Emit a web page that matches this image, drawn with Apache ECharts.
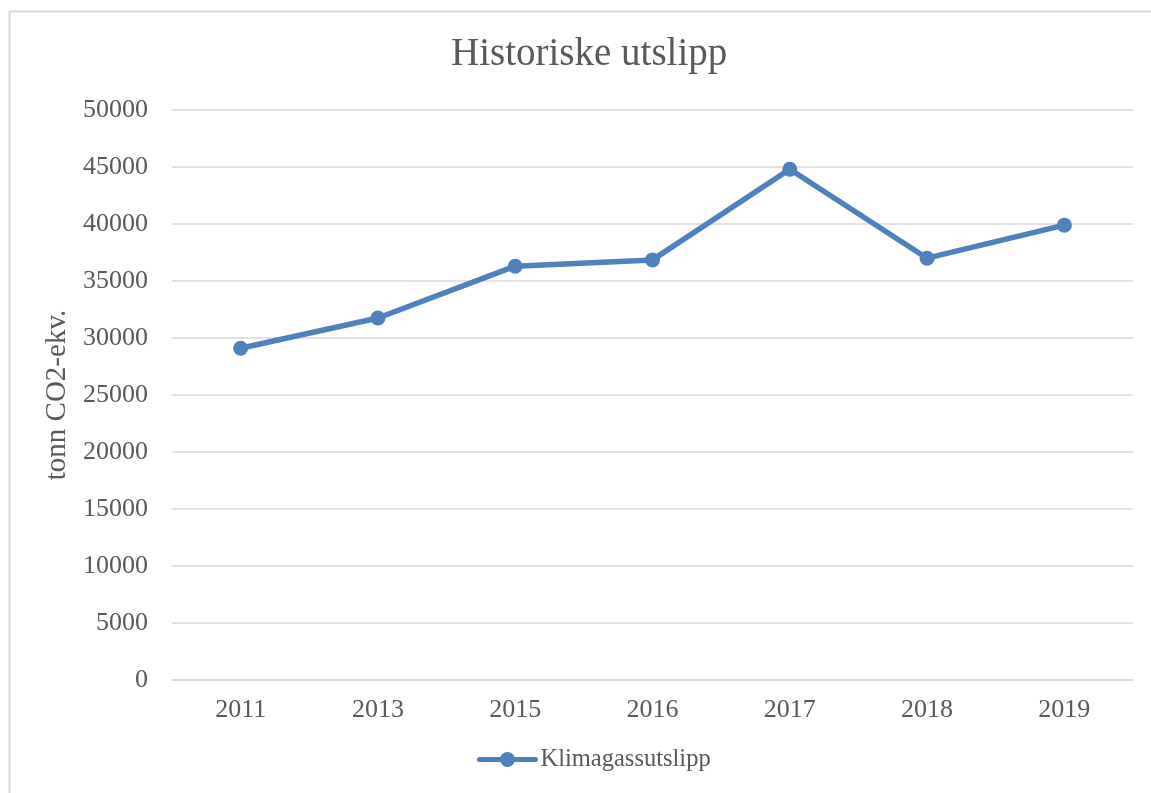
<!DOCTYPE html>
<html>
<head>
<meta charset="utf-8">
<script src="https://cdn.jsdelivr.net/npm/echarts@6/dist/echarts.min.js"></script>
<style>
  html, body { margin: 0; padding: 0; background: #fff; }
  #main { width: 1151px; height: 793px; }
</style>
</head>
<body>
<div id="main"></div>
<script>
// data
var years = ['2011', '2013', '2015', '2016', '2017', '2018', '2019'];
var utslipp = [29100, 31750, 36300, 36850, 44800, 37000, 39900];
var seriesName = 'Klimagassutslipp';

var myChart = echarts.init(document.getElementById('main'));
var font = '"Liberation Serif", "DejaVu Serif", serif';
var grey = '#595959';
var option = {
    backgroundColor: '#fff',
    textStyle: { fontFamily: font },
    graphic: [{
        type: 'rect',
        shape: { x: 9.5, y: 11.5, width: 1300, height: 1000 },
        style: { fill: 'none', stroke: '#d9d9d9', lineWidth: 2 },
        silent: true
    }],
    title: {
        text: 'Historiske utslipp',
        left: 446,
        top: 30,
        textStyle: { fontFamily: font, fontSize: 39, fontWeight: 'normal', color: grey }
    },
    legend: {
        bottom: 16,
        left: 472,
        itemWidth: 56,
        itemHeight: 19,
        itemGap: 4,
        lineStyle: { width: 5 },
        textStyle: { fontFamily: font, fontSize: 24.5, color: grey },
        data: [seriesName]
    },
    grid: { left: 172, right: 18, top: 110, bottom: 113 },
    xAxis: {
        type: 'category',
        data: years,
        boundaryGap: true,
        axisLine: { lineStyle: { color: '#d9d9d9', width: 1.5 } },
        axisTick: { show: false },
        axisLabel: { color: grey, fontSize: 26, margin: 17, fontFamily: font }
    },
    yAxis: {
        type: 'value',
        min: 0,
        max: 50000,
        interval: 5000,
        name: 'tonn CO2-ekv.',
        nameLocation: 'middle',
        nameGap: 93,
        nameTextStyle: { color: grey, fontSize: 29, fontFamily: font },
        axisLine: { show: false },
        axisTick: { show: false },
        axisLabel: {
            color: grey, fontSize: 26, margin: 24, fontFamily: font,
            formatter: function (v) { return String(v); }
        },
        splitLine: { lineStyle: { color: '#d9d9d9', width: 1.5 } }
    },
    series: [{
        name: seriesName,
        type: 'line',
        data: utslipp,
        symbol: 'circle',
        symbolSize: 15,
        lineStyle: { color: '#4f81bd', width: 5.5, cap: 'round', join: 'round' },
        itemStyle: { color: '#4f81bd' }
    }]
};
myChart.setOption(option);
</script>
</body>
</html>
